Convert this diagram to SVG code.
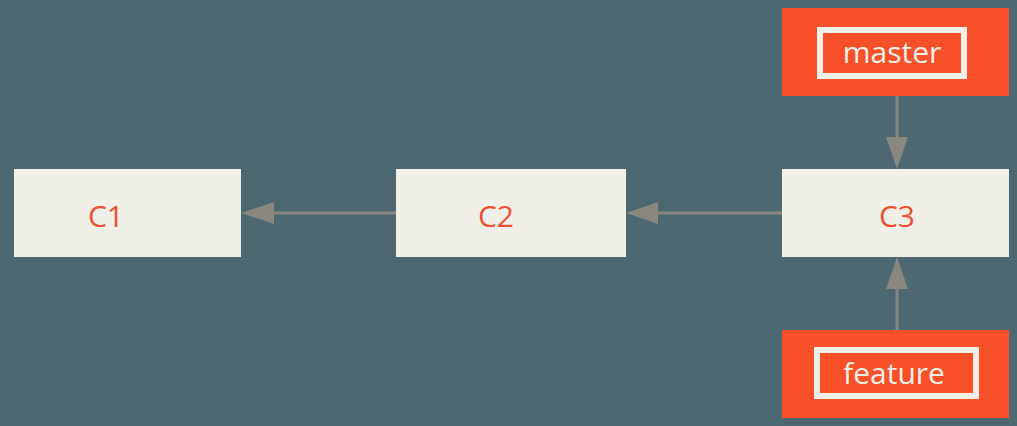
<svg xmlns="http://www.w3.org/2000/svg" width="1017" height="426" viewBox="0 0 1017 426">
<style>
.commit{fill:#f0efe8}
.ref{fill:#f85028}
.inner{fill:none;stroke:#f0efe8;stroke-width:6}
.ct{font-family:"Open Sans",sans-serif;font-size:30px;fill:#f05030;text-anchor:middle}
.rt{font-family:"Open Sans",sans-serif;font-size:30px;fill:#f0efe8;text-anchor:middle}
.conn{stroke:#8a8680;stroke-width:3;fill:none}
.head{fill:#8a8680}
</style>
<rect width="1017" height="426" fill="#4d6870"/>
<g id="connectors">
<line class="conn" x1="396" y1="213" x2="270" y2="213"/>
<polygon class="head" points="241,213 274,202 274,224"/>
<line class="conn" x1="782" y1="213" x2="655" y2="213"/>
<polygon class="head" points="626,213 658,202 658,224"/>
<line class="conn" x1="897" y1="96" x2="897" y2="140"/>
<polygon class="head" points="897,169 886,137 908,137"/>
<line class="conn" x1="897" y1="330" x2="897" y2="286"/>
<polygon class="head" points="897,257 886,289 908,289"/>
</g>
<g id="C1">
<rect class="commit" x="14" y="169" width="227" height="88"/>
<text class="ct" x="106" y="227">C1</text>
</g>
<g id="C2">
<rect class="commit" x="396" y="169" width="230" height="88"/>
<text class="ct" x="496" y="227">C2</text>
</g>
<g id="C3">
<rect class="commit" x="782" y="169" width="227" height="88"/>
<text class="ct" x="897" y="227">C3</text>
</g>
<g id="master">
<rect class="ref" x="782" y="8" width="227" height="88"/>
<rect class="inner" x="820" y="30" width="144" height="46"/>
<text class="rt" x="892" y="63">master</text>
</g>
<g id="feature">
<rect class="ref" x="782" y="330" width="227" height="88"/>
<rect class="inner" x="817" y="350" width="159" height="46"/>
<text class="rt" x="894" y="384">feature</text>
</g>
</svg>
